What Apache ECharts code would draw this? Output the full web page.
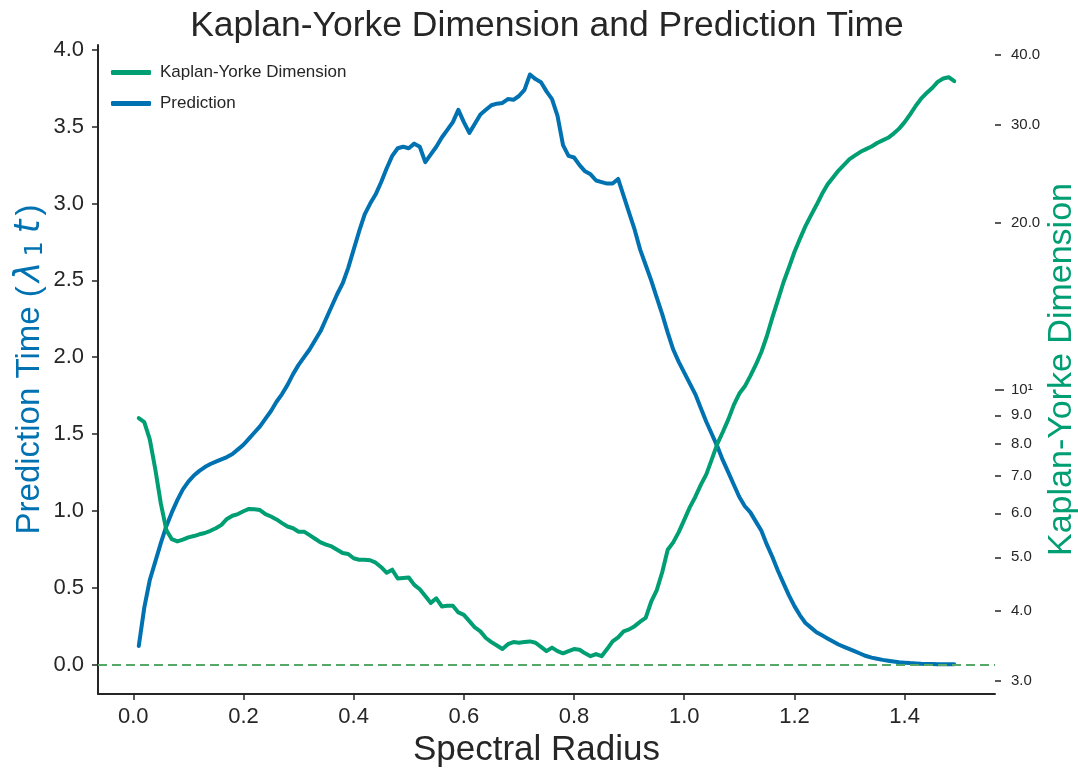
<!DOCTYPE html>
<html>
<head>
<meta charset="utf-8">
<script src="https://cdn.jsdelivr.net/npm/echarts@6/dist/echarts.min.js"></script>
<style>html,body{margin:0;padding:0;background:#fff}#c{width:1078px;height:771px}</style>
</head>
<body>
<div id="c"></div>
<script>
// Spectral radius grid: 0.01 .. 1.49 in steps of 0.01
const radiusStart = 0.01, radiusStep = 0.01, radiusCount = 149;

const prediction = [
0.12,0.37,0.55,0.67,0.79,0.90,0.99,1.07,1.14,1.19,
1.23,1.26,1.285,1.305,1.32,1.335,1.35,1.37,1.40,1.43,
1.47,1.51,1.55,1.60,1.65,1.71,1.76,1.82,1.89,1.95,
2.00,2.05,2.11,2.17,2.25,2.33,2.41,2.48,2.58,2.70,
2.82,2.93,3.00,3.06,3.14,3.23,3.31,3.36,3.37,3.36,
3.39,3.37,3.27,3.32,3.37,3.43,3.48,3.53,3.61,3.53,
3.46,3.52,3.58,3.61,3.64,3.65,3.655,3.68,3.675,3.70,
3.74,3.84,3.81,3.79,3.73,3.68,3.57,3.38,3.31,3.30,
3.25,3.21,3.19,3.15,3.14,3.13,3.13,3.16,3.05,2.94,
2.83,2.70,2.60,2.50,2.39,2.28,2.16,2.05,1.97,1.90,
1.83,1.76,1.67,1.58,1.50,1.42,1.33,1.25,1.17,1.09,
1.03,0.99,0.93,0.87,0.78,0.70,0.61,0.53,0.45,0.38,
0.32,0.27,0.24,0.21,0.19,0.17,0.15,0.13,0.115,0.10,
0.085,0.07,0.055,0.045,0.037,0.03,0.025,0.02,0.015,0.012,
0.009,0.007,0.005,0.004,0.003,0.002,0.002,0.001,0.001
];

const kaplanYorke = [
8.90,8.75,8.15,7.20,6.25,5.60,5.39,5.34,5.38,5.43,
5.46,5.50,5.53,5.58,5.64,5.72,5.86,5.94,5.98,6.05,
6.11,6.10,6.08,5.98,5.92,5.85,5.76,5.68,5.64,5.56,
5.56,5.48,5.40,5.32,5.27,5.23,5.16,5.09,5.07,4.98,
4.95,4.95,4.94,4.89,4.80,4.69,4.75,4.58,4.59,4.60,
4.46,4.38,4.26,4.14,4.22,4.08,4.09,4.09,3.98,3.94,
3.84,3.74,3.68,3.58,3.52,3.47,3.42,3.49,3.52,3.51,
3.52,3.53,3.51,3.45,3.39,3.44,3.39,3.36,3.39,3.42,
3.41,3.36,3.32,3.35,3.32,3.42,3.53,3.59,3.68,3.71,
3.76,3.83,3.89,4.16,4.36,4.70,5.16,5.32,5.55,5.84,
6.15,6.42,6.75,7.05,7.50,8.00,8.40,8.85,9.40,9.85,
10.15,10.6,11.1,11.7,12.5,13.5,14.5,15.6,16.6,17.7,
18.7,19.7,20.6,21.5,22.5,23.4,24.1,24.8,25.4,26.0,
26.4,26.8,27.1,27.4,27.8,28.1,28.4,28.9,29.5,30.3,
31.3,32.4,33.4,34.2,34.9,35.8,36.3,36.5,35.9
];

const xTicks = [0.0,0.2,0.4,0.6,0.8,1.0,1.2,1.4];
const leftTicks = [0.0,0.5,1.0,1.5,2.0,2.5,3.0,3.5,4.0];
const rightTicks = [3,4,5,6,7,8,9,10,20,30,40];

const FONT = '"Liberation Sans", Arial, Helvetica, sans-serif';
const MATH = '"DejaVu Sans", sans-serif';
const INK = '#262626';
const BLUE = '#0072B2';
const GREEN = '#009E73';

const radius = [];
for (let i = 0; i < radiusCount; i++) radius.push(+(radiusStart + i * radiusStep).toFixed(2));

const predData = radius.map((r, i) => [r, prediction[i]]);
const kyData = radius.map((r, i) => [r, Math.log10(kaplanYorke[i])]);

const chart = echarts.init(document.getElementById('c'), null, {renderer: 'canvas'});
chart.setOption({
  animation: false,
  backgroundColor: '#ffffff',
  title: {
    text: 'Kaplan-Yorke Dimension and Prediction Time',
    left: 542, textAlign: 'center', top: 3,
    textStyle: {fontFamily: FONT, fontSize: 35.5, fontWeight: 'normal', color: INK}
  },
  legend: {
    orient: 'vertical', left: 106, top: 59,
    itemWidth: 40, itemHeight: 5, itemGap: 14, icon: 'roundRect',
    data: ['Kaplan-Yorke Dimension', 'Prediction'],
    textStyle: {fontFamily: FONT, fontSize: 17, color: INK, padding: [0,0,0,4]}
  },
  grid: {left: 98, right: 83, top: 45, bottom: 77, containLabel: false, outerBoundsMode: 'none'},
  xAxis: {
    type: 'value', min: -0.064, max: 1.564,
    name: 'Spectral Radius', nameLocation: 'middle', nameGap: 38,
    nameTextStyle: {fontFamily: FONT, fontSize: 35, color: INK, padding: [0, 20, 0, 0]},
    axisLine: {show: true, onZero: false, lineStyle: {color: INK, width: 2}},
    axisTick: {show: true, length: 6, lineStyle: {color: INK, width: 1.5}, customValues: xTicks},
    axisLabel: {fontFamily: FONT, fontSize: 22, color: INK, margin: 12, customValues: xTicks,
      formatter: v => v.toFixed(1)},
    splitLine: {show: false}
  },
  yAxis: [
    {
      type: 'value', min: -0.192, max: 4.032, position: 'left',
      name: 'Prediction Time ({i|λ}{s|1}{i|t})', nameLocation: 'middle', nameGap: 50, nameRotate: 90,
      nameMoveOverlap: false,
      nameTextStyle: {fontFamily: FONT, fontSize: 33, color: BLUE,
        rich: {
          i: {fontFamily: MATH, fontSize: 35, color: BLUE, fontStyle: 'italic', padding: [0, 4, 0, 4]},
          s: {fontFamily: MATH, fontSize: 24, color: BLUE, verticalAlign: 'bottom', padding: [12, 4, 0, 1]}
        }},
      axisLine: {show: true, onZero: false, lineStyle: {color: INK, width: 2}},
      axisTick: {show: true, length: 6, lineStyle: {color: INK, width: 1.5}, customValues: leftTicks},
      axisLabel: {fontFamily: FONT, fontSize: 22, color: INK, margin: 14, customValues: leftTicks,
        formatter: v => v.toFixed(1)},
      splitLine: {show: false}
    },
    {
      type: 'value', min: 0.4532, max: 1.6202, position: 'right',
      name: 'Kaplan-Yorke Dimension', nameLocation: 'middle', nameGap: 50, nameRotate: 90,
      nameMoveOverlap: false,
      nameTextStyle: {fontFamily: FONT, fontSize: 34, color: GREEN},
      axisLine: {show: false, onZero: false},
      axisTick: {show: true, length: 6, lineStyle: {color: INK, width: 1.5},
        customValues: rightTicks.filter(t => t !== 10).map(t => Math.log10(t))},
      axisLabel: {fontFamily: FONT, fontSize: 15, color: INK, margin: 16,
        customValues: rightTicks.map(t => Math.log10(t)),
        formatter: v => {
          const t = Math.round(Math.pow(10, v) * 10) / 10;
          return t === 10 ? '10¹' : t.toFixed(1);
        }},
      splitLine: {show: false}
    },
    {
      type: 'value', min: 0.4532, max: 1.6202, position: 'right', offset: 0,
      axisLine: {show: false, onZero: false},
      axisTick: {show: true, length: 9, lineStyle: {color: INK, width: 1.5}, customValues: [1]},
      axisLabel: {show: false},
      splitLine: {show: false}
    }
  ],
  series: [
    {
      name: 'Prediction', type: 'line', yAxisIndex: 0, data: predData,
      showSymbol: false, symbol: 'none', color: BLUE,
      lineStyle: {color: BLUE, width: 4, cap: 'round', join: 'round'},
      z: 3,
      markLine: {
        silent: true, symbol: 'none', label: {show: false},
        lineStyle: {color: '#55A868', width: 2, type: [9, 5]},
        data: [{yAxis: 0}]
      }
    },
    {
      name: 'Kaplan-Yorke Dimension', type: 'line', yAxisIndex: 1, data: kyData,
      showSymbol: false, symbol: 'none', color: GREEN,
      lineStyle: {color: GREEN, width: 4, cap: 'round', join: 'round'},
      z: 4
    }
  ]
});
</script>
</body>
</html>
